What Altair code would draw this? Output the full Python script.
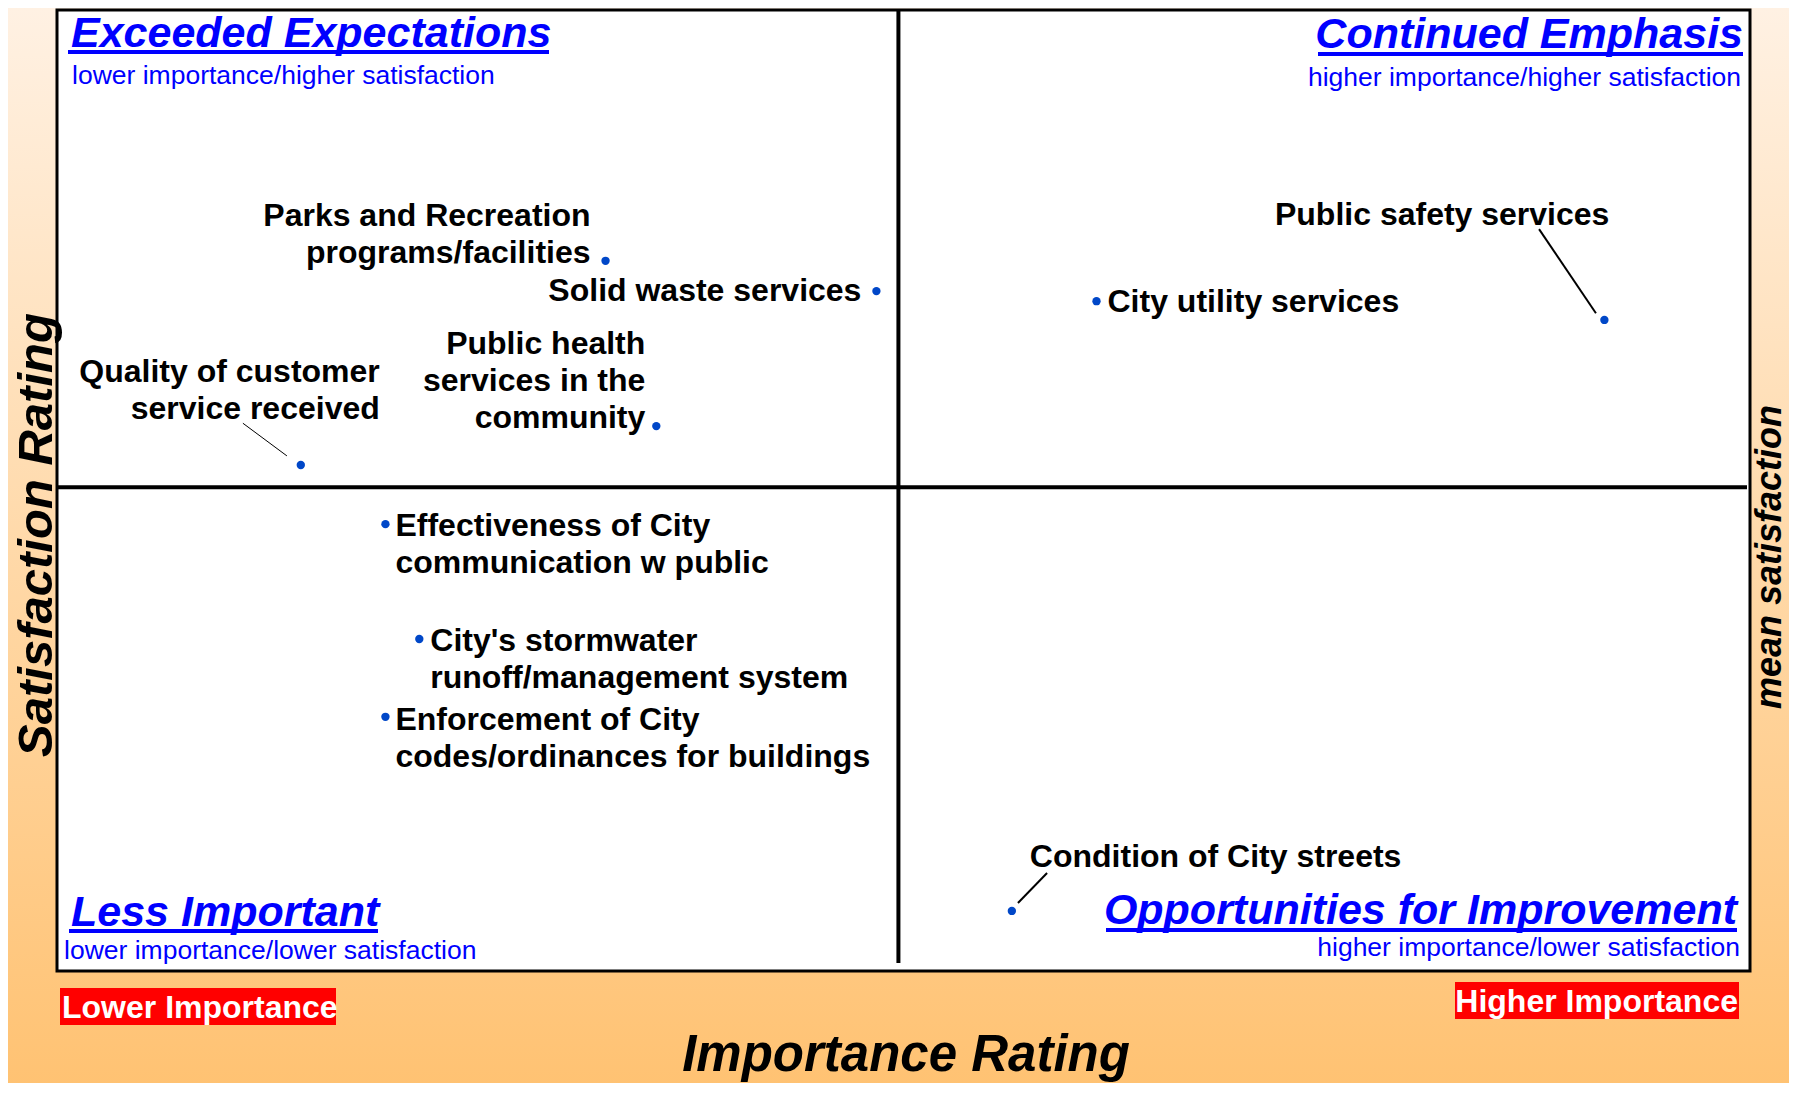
import altair as alt
import pandas as pd

# ---------------- data ----------------
services = [
    "Parks and Recreation programs/facilities",
    "Solid waste services",
    "Quality of customer service received",
    "Public health services in the community",
    "Effectiveness of City communication w public",
    "City's stormwater runoff/management system",
    "Enforcement of City codes/ordinances for buildings",
    "City utility services",
    "Public safety services",
    "Condition of City streets",
]
label_text = [
    "Parks and Recreation\nprograms/facilities",
    "Solid waste services",
    "Quality of customer\nservice received",
    "Public health\nservices in the\ncommunity",
    "Effectiveness of City\ncommunication w public",
    "City's stormwater\nrunoff/management system",
    "Enforcement of City\ncodes/ordinances for buildings",
    "City utility services",
    "Public safety services",
    "Condition of City streets",
]
importance = [16.2, 24.2, 7.2, 17.7, 9.7, 10.7, 9.7, 30.7, 45.7, 28.2]
satisfaction = [3.878, 3.815, 3.453, 3.534, 3.330, 3.091, 2.929, 3.794, 3.755, 2.525]
mean_importance = 24.85
mean_satisfaction = 3.407

# leader lines (label end -> point end), in data units
leader_service = ["Quality of customer service received", "Public safety services", "Condition of City streets"]
leader_x1 = [5.49, 43.77, 29.24]
leader_y1 = [3.540, 3.944, 2.604]
leader_x2 = [6.79, 45.45, 28.38]
leader_y2 = [3.472, 3.769, 2.5415]
leader_width = [1, 2, 2]

quadrant_titles = ["Exceeded Expectations", "Continued Emphasis", "Less Important", "Opportunities for Improvement"]
quadrant_subtitles = [
    "lower importance/higher satisfaction",
    "higher importance/higher satisfaction",
    "lower importance/lower satisfaction",
    "higher importance/lower satisfaction",
]

df = pd.DataFrame({"service": services, "label": label_text,
                   "importance": importance, "satisfaction": satisfaction})
leaders = pd.DataFrame({"service": leader_service, "x1": leader_x1, "y1": leader_y1,
                        "x2": leader_x2, "y2": leader_y2, "w": leader_width})

# ---------------- layout / style ----------------
W, H = 1693, 961
FONT = "Liberation Sans, Arial, sans-serif"
BLUE = "#0000FF"
DOT = "#0047C8"

xs = alt.Scale(domain=[0, 50], nice=False, zero=False)
ys = alt.Scale(domain=[2.4, 4.4], nice=False, zero=False)

one = alt.Data(values=[{"a": 1}])

bg = alt.Chart(one).mark_rect(
    fill={"gradient": "linear", "x1": 0, "y1": 0, "x2": 0, "y2": 1,
          "stops": [{"offset": 0, "color": "#FFF1E3"},
                    {"offset": 0.5, "color": "#FFD9A9"},
                    {"offset": 1, "color": "#FFC272"}]}
).encode(x=alt.value(-49), x2=alt.value(1740), y=alt.value(-2), y2=alt.value(1080))

frame = alt.Chart(one).mark_rect(fill="white", stroke="black", strokeWidth=3).encode(
    x=alt.value(0), x2=alt.value(W), y=alt.value(0), y2=alt.value(H))

vline = alt.Chart(one).mark_rule(color="black", strokeWidth=4).encode(
    x=alt.X(datum=mean_importance, type="quantitative", scale=xs, axis=None),
    y=alt.value(0), y2=alt.value(953))
hline = alt.Chart(one).mark_rule(color="black", strokeWidth=4).encode(
    y=alt.Y(datum=mean_satisfaction, type="quantitative", scale=ys, axis=None),
    x=alt.value(0), x2=alt.value(W - 3))

leader_layers = []
for i in range(len(leaders)):
    leader_layers.append(
        alt.Chart(leaders.iloc[[i]]).mark_rule(color="black", strokeWidth=float(leader_width[i])).encode(
            x=alt.X("x1:Q", scale=xs, axis=None), y=alt.Y("y1:Q", scale=ys, axis=None),
            x2="x2:Q", y2="y2:Q"))

dots = alt.Chart(df).mark_circle(size=70, color=DOT, opacity=1).encode(
    x=alt.X("importance:Q", scale=xs, axis=None),
    y=alt.Y("satisfaction:Q", scale=ys, axis=None))

# label placement relative to its point: (align, dx, dy)
label_layout = [
    ("right", -15, -35),
    ("right", -15, 10),
    ("right", 79, -83),
    ("right", -11, -72),
    ("left", 10, 12),
    ("left", 11, 12),
    ("left", 10, 13),
    ("left", 11, 11),
    ("right", 5, -95),
    ("left", 18, -44),
]
label_layers = []
for i, (al, dx, dy) in enumerate(label_layout):
    label_layers.append(
        alt.Chart(df.iloc[[i]]).mark_text(
            align=al, baseline="alphabetic", dx=dx, dy=dy, font=FONT, fontSize=32,
            fontWeight="bold", color="black", lineBreak="\n", lineHeight=37
        ).encode(x=alt.X("importance:Q", scale=xs, axis=None),
                 y=alt.Y("satisfaction:Q", scale=ys, axis=None),
                 text="label:N"))

def txt(s, x, y, size, align="left", weight="normal", style="normal", color="black", angle=0):
    kw = dict(align=align, baseline="alphabetic", font=FONT, fontSize=size,
              fontWeight=weight, fontStyle=style, color=color, text=s)
    if angle:
        kw["angle"] = angle
    return alt.Chart(one).mark_text(**kw).encode(x=alt.value(x), y=alt.value(y))

def uline(x1, x2, y):
    return alt.Chart(one).mark_rule(color=BLUE, strokeWidth=4).encode(
        x=alt.value(x1), x2=alt.value(x2), y=alt.value(y))

def redbox(x1, x2, y1, y2):
    return alt.Chart(one).mark_rect(fill="#FF0000").encode(
        x=alt.value(x1), x2=alt.value(x2), y=alt.value(y1), y2=alt.value(y2))

annots = [
    txt(quadrant_titles[0], 14, 37, 43, weight="bold", style="italic", color=BLUE),
    uline(11, 492, 42),
    txt(quadrant_subtitles[0], 15, 74, 26.5, color=BLUE),
    txt(quadrant_titles[1], 1686, 38, 43, align="right", weight="bold", style="italic", color=BLUE),
    uline(1261, 1686, 44),
    txt(quadrant_subtitles[1], 1684, 76, 26.5, align="right", color=BLUE),
    txt(quadrant_titles[2], 14, 916, 43, weight="bold", style="italic", color=BLUE),
    uline(12, 321, 921),
    txt(quadrant_subtitles[2], 7, 949, 26.5, color=BLUE),
    txt(quadrant_titles[3], 1680, 914, 43, align="right", weight="bold", style="italic", color=BLUE),
    uline(1049, 1680, 920),
    txt(quadrant_subtitles[3], 1683, 946, 26.5, align="right", color=BLUE),
    redbox(3, 279, 978, 1015),
    txt("Lower Importance", 5, 1008, 32, weight="bold", color="white"),
    redbox(1398, 1682, 972, 1009),
    txt("Higher Importance", 1681, 1002, 32, align="right", weight="bold", color="white"),
    txt("Importance Rating", 849, 1061, 51, align="center", weight="bold", style="italic"),
    txt("Satisfaction Rating", -5, 525, 49, align="center", weight="bold", style="italic", angle=270),
    txt("mean satisfaction", 1724, 547, 36, align="center", weight="bold", style="italic", angle=270),
]

chart = alt.layer(bg, frame, vline, hline, *leader_layers, dots, *label_layers, *annots).properties(
    width=W, height=H,
    padding={"left": 49, "top": 2, "right": 39, "bottom": 112},
    autosize=alt.AutoSizeParams(type="none"),
).configure_view(strokeWidth=0)

chart.save("out.html", embed_options={"renderer": "svg", "actions": False})
